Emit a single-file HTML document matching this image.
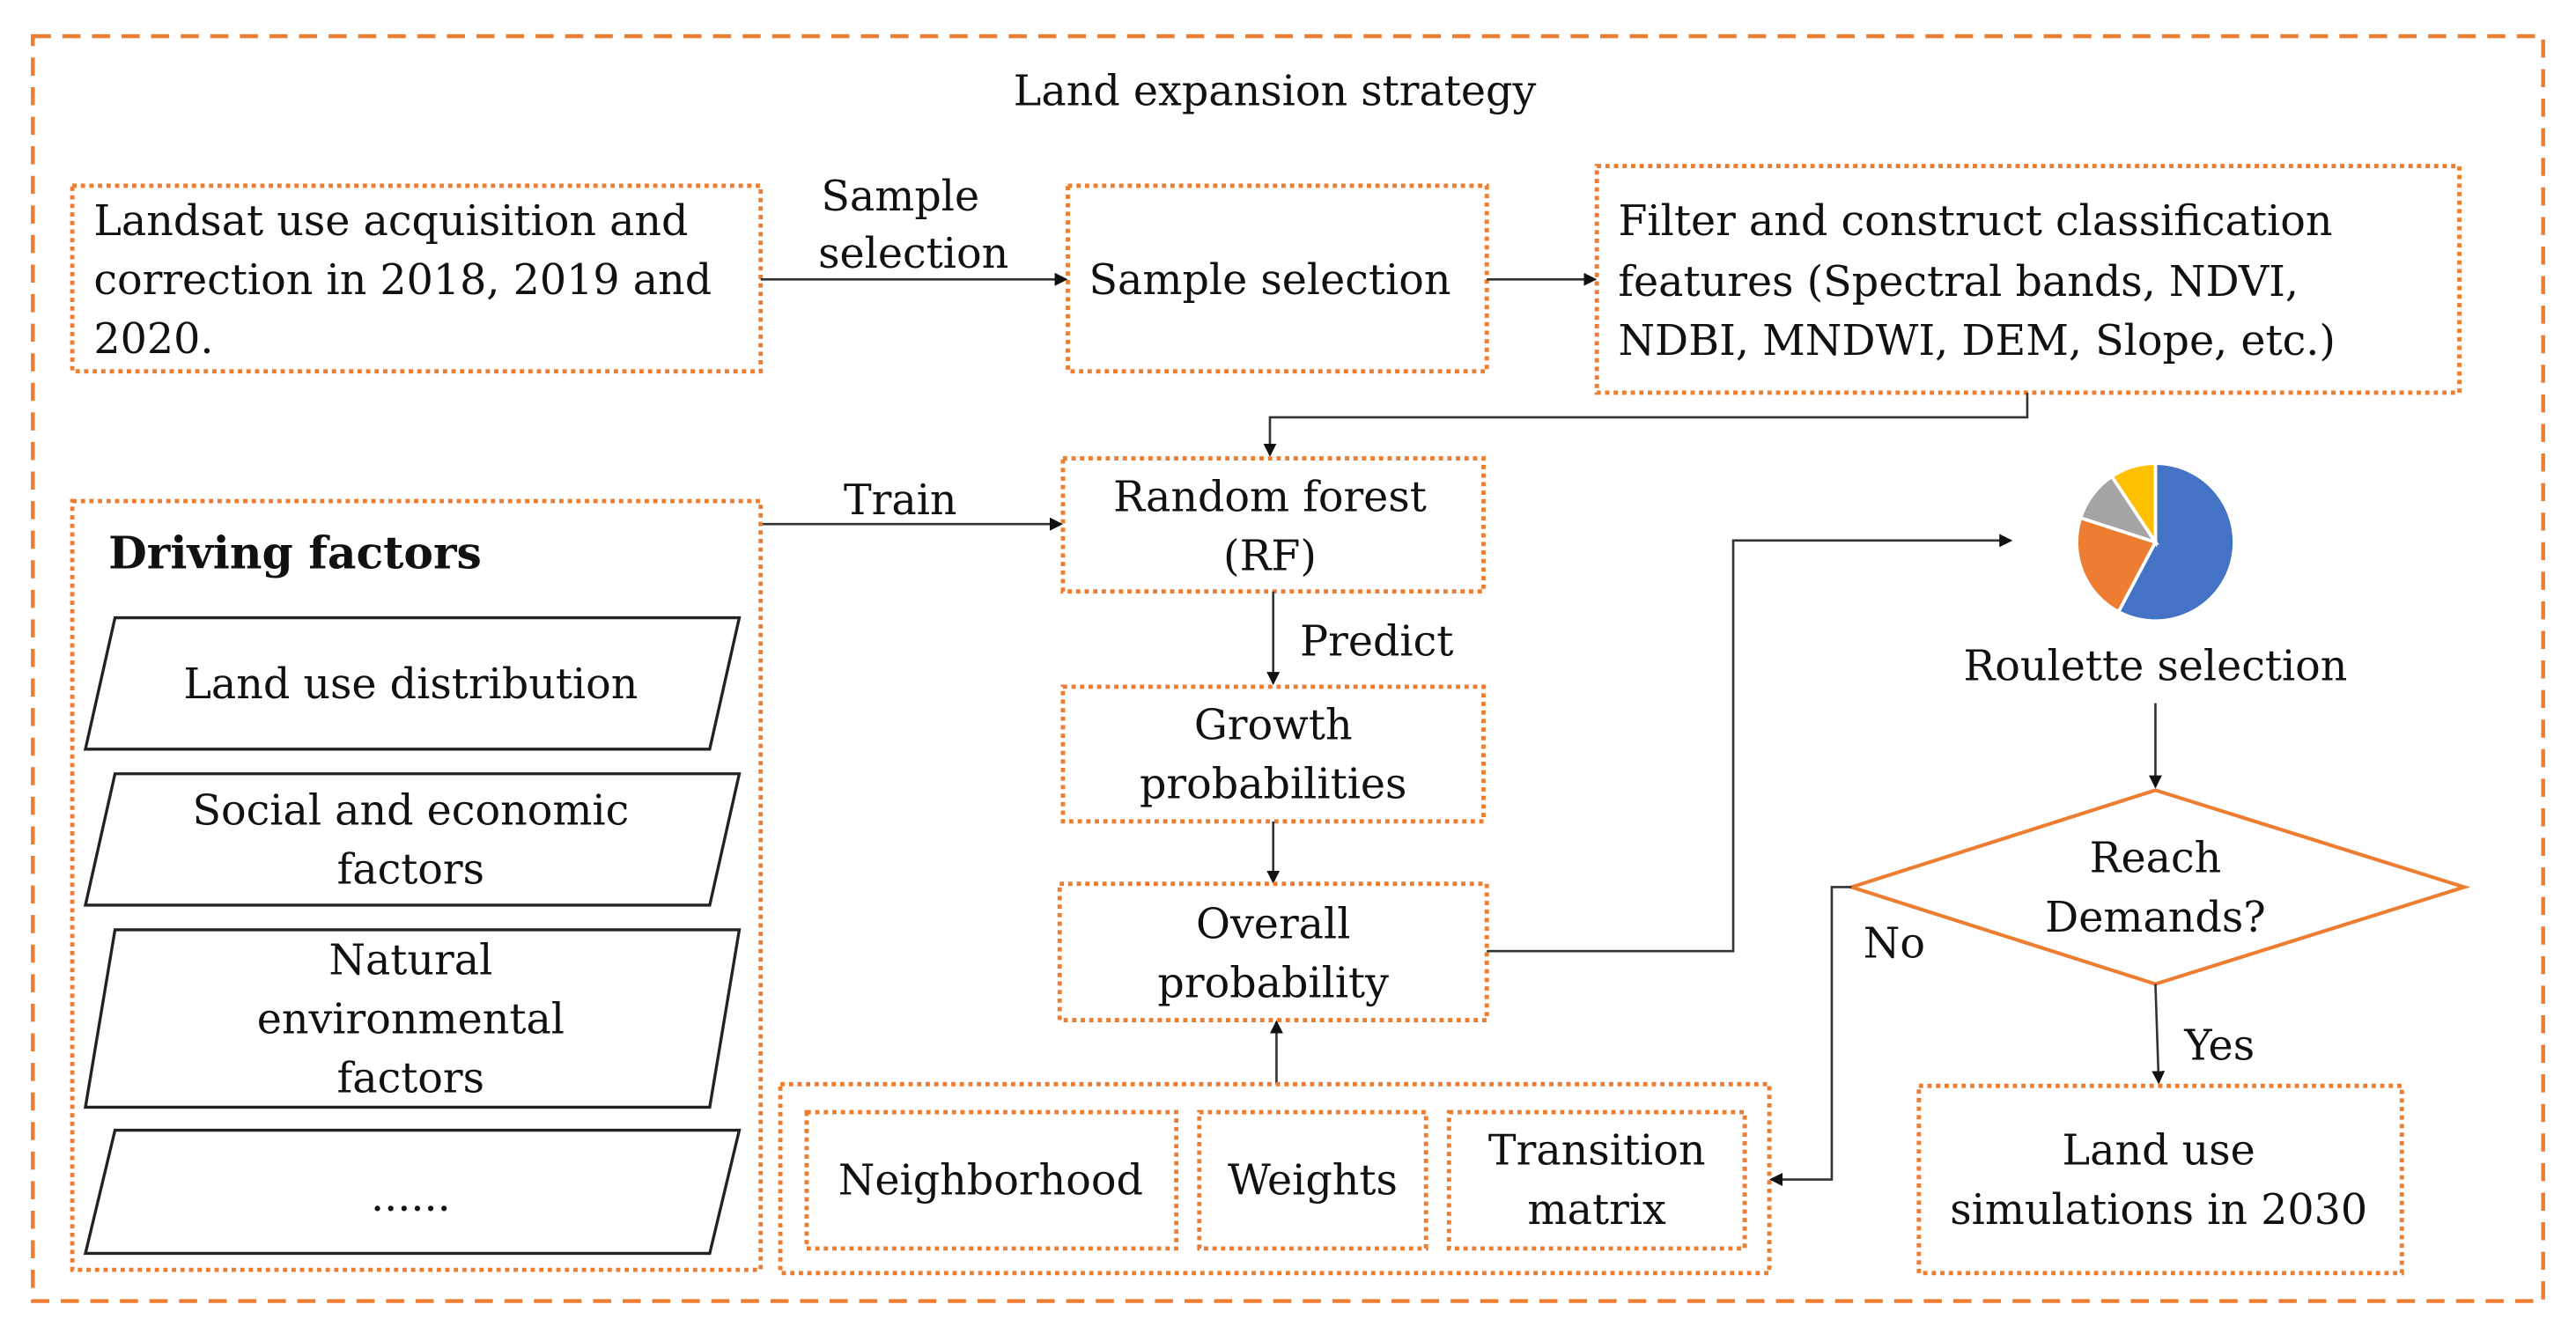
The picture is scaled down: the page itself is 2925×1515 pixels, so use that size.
<!DOCTYPE html>
<html><head><meta charset="utf-8"><style>
html,body{margin:0;padding:0;background:#fff;}
svg{display:block;}
text{font-family:"DejaVu Serif","Liberation Serif",serif;font-size:25.5px;fill:#111;}
.c{text-anchor:middle;}
.dot{fill:none;stroke:#ED7D31;stroke-width:2.6;stroke-dasharray:2.6 2.6;}
.ln{fill:none;stroke:#333;stroke-width:1.4;}
.pg{fill:#fff;stroke:#222;stroke-width:1.8;}
</style></head><body>
<svg width="2925" height="1515" viewBox="0 0 1568 812" xmlns="http://www.w3.org/2000/svg">
<defs><marker id="a" markerWidth="8" markerHeight="8" refX="7" refY="4" orient="auto" markerUnits="userSpaceOnUse"><path d="M0,0 L8,4 L0,8 z" fill="#111"/></marker></defs>
<rect x="20" y="22" width="1528" height="770" fill="none" stroke="#ED7D31" stroke-width="2.4" stroke-dasharray="11 7"/>
<text x="776" y="64" class="c">Land expansion strategy</text>

<rect class="dot" x="44" y="113" width="419" height="113"/>
<text x="57" y="143">Landsat use acquisition and</text>
<text x="57" y="179">correction in 2018, 2019 and</text>
<text x="57" y="215">2020.</text>
<line class="ln" x1="463" y1="170" x2="649" y2="170" marker-end="url(#a)"/>
<text x="548" y="128" class="c">Sample</text>
<text x="556" y="163" class="c">selection</text>
<rect class="dot" x="650" y="113" width="255" height="113"/>
<text x="773" y="179" class="c">Sample selection</text>
<line class="ln" x1="905" y1="170" x2="971" y2="170" marker-end="url(#a)"/>
<rect class="dot" x="972" y="101" width="525" height="138"/>
<text x="985" y="143">Filter and construct classification</text>
<text x="985" y="180">features (Spectral bands, NDVI,</text>
<text x="985" y="216">NDBI, MNDWI, DEM, Slope, etc.)</text>
<polyline class="ln" points="1234,239 1234,254 773,254 773,277" marker-end="url(#a)"/>

<rect class="dot" x="647" y="279" width="256" height="81"/>
<text x="773" y="311" class="c">Random forest</text>
<text x="773" y="347" class="c">(RF)</text>
<line class="ln" x1="463" y1="319" x2="646" y2="319" marker-end="url(#a)"/>
<text x="548" y="313" class="c">Train</text>

<rect class="dot" x="44" y="305" width="419" height="468"/>
<text x="66" y="346" style="font-weight:bold;font-size:27px">Driving factors</text>
<polygon class="pg" points="70,376 450,376 432,456 52,456"/>
<text x="250" y="425" class="c">Land use distribution</text>
<polygon class="pg" points="70,471 450,471 432,551 52,551"/>
<text x="250" y="502" class="c">Social and economic</text>
<text x="250" y="538" class="c">factors</text>
<polygon class="pg" points="70,566 450,566 432,674 52,674"/>
<text x="250" y="593" class="c">Natural</text>
<text x="250" y="629" class="c">environmental</text>
<text x="250" y="665" class="c">factors</text>
<polygon class="pg" points="70,688 450,688 432,763 52,763"/>
<text x="250" y="737" class="c">......</text>

<line class="ln" x1="775" y1="360" x2="775" y2="416" marker-end="url(#a)"/>
<text x="838" y="399" class="c">Predict</text>
<rect class="dot" x="647" y="418" width="256" height="82"/>
<text x="775" y="450" class="c">Growth</text>
<text x="775" y="486" class="c">probabilities</text>
<line class="ln" x1="775" y1="500" x2="775" y2="537" marker-end="url(#a)"/>
<rect class="dot" x="645" y="538" width="260" height="83"/>
<text x="775" y="571" class="c">Overall</text>
<text x="775" y="607" class="c">probability</text>
<line class="ln" x1="777" y1="660" x2="777" y2="622" marker-end="url(#a)"/>

<rect class="dot" x="475" y="660" width="602" height="115"/>
<rect class="dot" x="491" y="677" width="225" height="83"/>
<text x="603" y="727" class="c">Neighborhood</text>
<rect class="dot" x="730" y="677" width="138" height="83"/>
<text x="799" y="727" class="c">Weights</text>
<rect class="dot" x="882" y="677" width="180" height="83"/>
<text x="972" y="709" class="c">Transition</text>
<text x="972" y="745" class="c">matrix</text>

<polyline class="ln" points="905,579 1055,579 1055,329 1224,329" marker-end="url(#a)"/>

<g stroke="#fff" stroke-width="2">
<path d="M1312,330 L1312,282 A48,48 0 1 1 1289.5,372.4 Z" fill="#4472C4"/>
<path d="M1312,330 L1289.5,372.4 A48,48 0 0 1 1266.4,315.2 Z" fill="#ED7D31"/>
<path d="M1312,330 L1266.4,315.2 A48,48 0 0 1 1285.5,290 Z" fill="#A5A5A5"/>
<path d="M1312,330 L1285.5,290 A48,48 0 0 1 1312,282 Z" fill="#FFC000"/>
</g>
<text x="1312" y="414" class="c">Roulette selection</text>
<line class="ln" x1="1312" y1="428" x2="1312" y2="479" marker-end="url(#a)"/>
<polygon points="1312,481 1500,540 1312,599 1127,540" fill="none" stroke="#ED7D31" stroke-width="2.2"/>
<text x="1312" y="531" class="c">Reach</text>
<text x="1312" y="567" class="c">Demands?</text>
<polyline class="ln" points="1127,540 1115,540 1115,718 1078,718" marker-end="url(#a)"/>
<text x="1153" y="583" class="c">No</text>
<line class="ln" x1="1312" y1="599" x2="1314" y2="659" marker-end="url(#a)"/>
<text x="1351" y="645" class="c">Yes</text>
<rect class="dot" x="1168" y="661" width="294" height="114"/>
<text x="1314" y="709" class="c">Land use</text>
<text x="1314" y="745" class="c">simulations in 2030</text>
</svg>
</body></html>
